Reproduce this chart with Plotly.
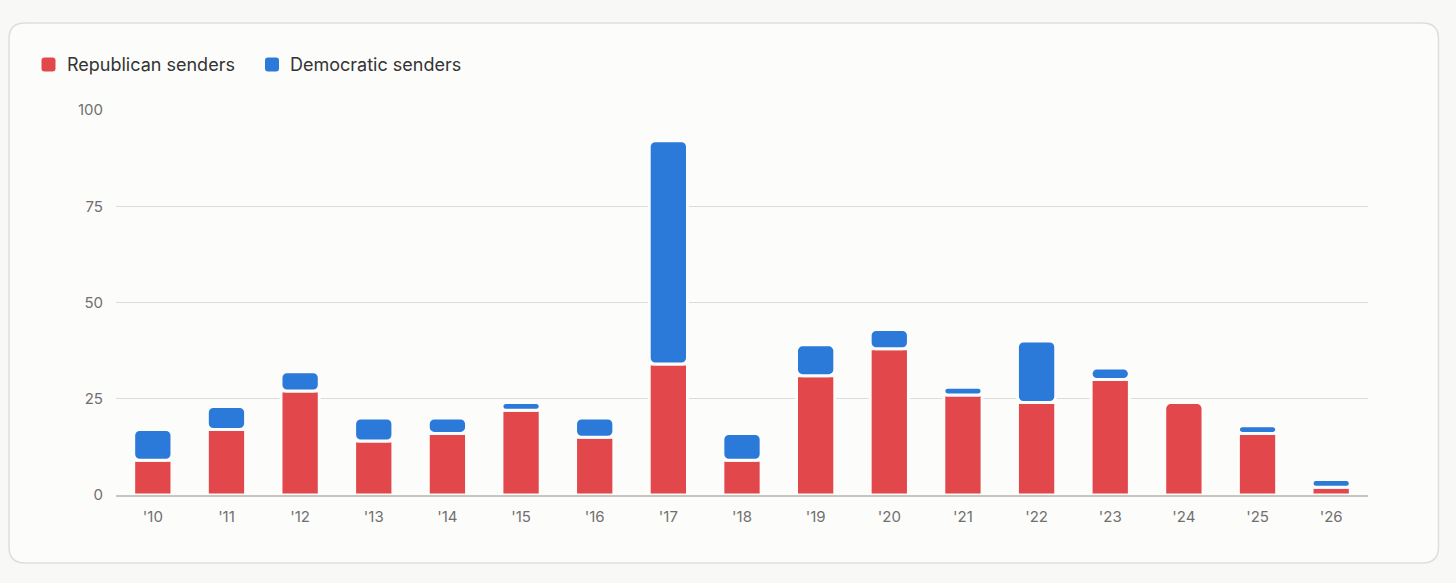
import plotly.graph_objects as go

# data
years = ["'10", "'11", "'12", "'13", "'14", "'15", "'16", "'17", "'18",
         "'19", "'20", "'21", "'22", "'23", "'24", "'25", "'26"]
republican = [9, 17, 27, 14, 16, 22, 15, 34, 9, 31, 38, 26, 24, 30, 24, 16, 2]
democratic = [8, 6, 5, 6, 4, 2, 5, 58, 7, 8, 5, 2, 16, 3, 0, 2, 2]
y_ticks = [0, 25, 50, 75, 100]

W, H = 1456, 583
L, R, T, B = 116, 88, 110, 88
PW, PH = W - L - R, H - T - B

CARD = "#fcfcfb"
OUTER = "#f8f8f7"
RED = "#e2474b"
BLUE = "#2b79d8"
FONT = "Inter, Roboto, sans-serif"


def px(x):
    return (x - L) / PW


def py(y):
    return (H - B - y) / PH


def rounded_rect(x0, y0, x1, y1, r):
    # pixel box -> paper-coord svg path with rounded corners
    pts = [
        f"M{px(x0 + r)},{py(y0)}",
        f"L{px(x1 - r)},{py(y0)}",
        f"Q{px(x1)},{py(y0)} {px(x1)},{py(y0 + r)}",
        f"L{px(x1)},{py(y1 - r)}",
        f"Q{px(x1)},{py(y1)} {px(x1 - r)},{py(y1)}",
        f"L{px(x0 + r)},{py(y1)}",
        f"Q{px(x0)},{py(y1)} {px(x0)},{py(y1 - r)}",
        f"L{px(x0)},{py(y0 + r)}",
        f"Q{px(x0)},{py(y0)} {px(x0 + r)},{py(y0)}",
        "Z",
    ]
    return " ".join(pts)


fig = go.Figure()
fig.add_trace(go.Bar(
    x=years, y=republican, name="Republican senders",
    marker=dict(color=RED, cornerradius=6, line=dict(color=CARD, width=3)),
))
fig.add_trace(go.Bar(
    x=years, y=democratic, base=republican, name="Democratic senders",
    marker=dict(color=BLUE, cornerradius=6, line=dict(color=CARD, width=3)),
))

# legend drawn by hand: rounded swatches + labels
shapes = [dict(
    type="path", xref="paper", yref="paper", layer="below",
    path=rounded_rect(9, 23, 1438.5, 563, 16),
    fillcolor=CARD, line=dict(color="#dedede", width=1.5),
)]
annotations = []
for name, color, x0 in [("Republican senders", RED, 41.5),
                        ("Democratic senders", BLUE, 265)]:
    shapes.append(dict(
        type="path", xref="paper", yref="paper",
        path=rounded_rect(x0, 57.5, x0 + 14, 71.5, 3),
        fillcolor=color, line=dict(width=0),
    ))
    annotations.append(dict(
        text=name, xref="paper", yref="paper", x=px(x0 + 23), y=py(64.5),
        xanchor="left", yanchor="middle", showarrow=False,
        font=dict(size=18, color="#333333", family=FONT),
    ))

fig.update_layout(
    width=W, height=H,
    margin=dict(l=L, r=R, t=T, b=B),
    barmode="overlay",
    bargap=0.48,
    paper_bgcolor=OUTER,
    plot_bgcolor=CARD,
    font=dict(family=FONT, color="#777777", size=15),
    showlegend=False,
    shapes=shapes,
    annotations=annotations,
    xaxis=dict(
        showgrid=False, showline=True, linecolor="#c6c6be", linewidth=1.5,
        ticks="", tickfont=dict(size=15, color="#707070"),
        ticklabelstandoff=7, fixedrange=True,
    ),
    yaxis=dict(
        range=[0, 100], tickvals=y_ticks, showgrid=True, gridcolor="#dcdcdc",
        gridwidth=1, zeroline=False, ticks="",
        tickfont=dict(size=15, color="#707070"), ticklabelstandoff=12,
    ),
)

fig.write_html(
    "out.html",
    config={"displayModeBar": False},
    post_script="document.body.style.margin='0';"
                "document.body.style.background='#f8f8f7';",
)
